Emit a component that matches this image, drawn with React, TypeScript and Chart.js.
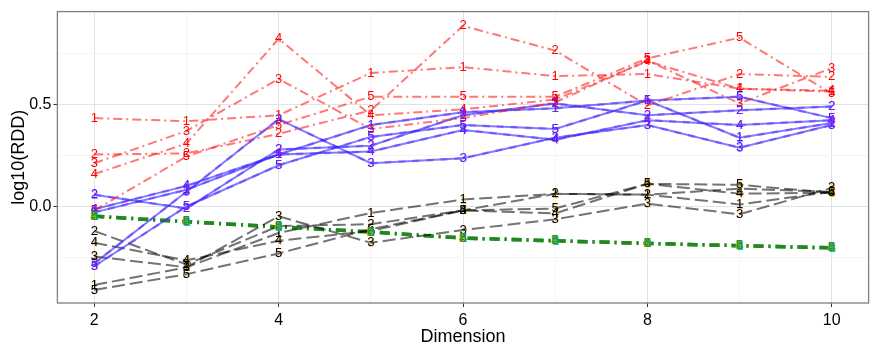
import React, { useEffect, useRef } from 'react';
import { Chart, registerables } from 'chart.js';
Chart.register(...registerables);

const dimensions = [2, 3, 4, 5, 6, 7, 8, 9, 10];
const runLabels = ['1', '2', '3', '4', '5'];
const xTicks = [2, 3, 4, 5, 6, 7, 8, 9, 10];
const yTicks = [-0.25, 0, 0.25, 0.5, 0.75];
const xTitle = 'Dimension';
const yTitle = 'log10(RDD)';

// red group (dash-dot)
const red1 = [0.433, 0.418, 0.447, 0.654, 0.683, 0.639, 0.649, 0.577, 0.563];
const red2 = [0.255, 0.26, 0.356, 0.471, 0.885, 0.764, 0.495, 0.649, 0.635];
const red3 = [0.212, 0.37, 0.625, 0.38, 0.433, 0.51, 0.716, 0.505, 0.678];
const red4 = [0.159, 0.308, 0.822, 0.447, 0.476, 0.524, 0.712, 0.577, 0.567];
const red5 = [-0.019, 0.245, 0.399, 0.538, 0.538, 0.538, 0.726, 0.827, 0.553];

// blue group (solid)
const blue1 = [-0.029, 0.082, 0.255, 0.399, 0.462, 0.481, 0.519, 0.337, 0.409];
const blue2 = [0.058, -0.01, 0.279, 0.298, 0.447, 0.505, 0.447, 0.471, 0.49];
const blue3 = [-0.279, 0.072, 0.428, 0.212, 0.236, 0.337, 0.399, 0.288, 0.399];
const blue4 = [-0.014, 0.101, 0.255, 0.269, 0.375, 0.327, 0.423, 0.399, 0.423];
const blue5 = [-0.293, 0.0, 0.202, 0.341, 0.399, 0.38, 0.519, 0.538, 0.433];

// purple group (dashed) - overlaps blue
const purple1 = [-0.029, 0.082, 0.255, 0.399, 0.462, 0.481, 0.519, 0.337, 0.409];
const purple2 = [0.058, -0.01, 0.279, 0.298, 0.447, 0.505, 0.447, 0.471, 0.49];
const purple3 = [-0.279, 0.072, 0.428, 0.212, 0.236, 0.337, 0.399, 0.288, 0.399];
const purple4 = [-0.014, 0.101, 0.255, 0.269, 0.375, 0.327, 0.423, 0.399, 0.423];
const purple5 = [-0.293, 0.0, 0.202, 0.341, 0.399, 0.38, 0.519, 0.538, 0.433];

// black group (long dash)
const black1 = [-0.385, -0.298, -0.13, -0.032, 0.034, 0.062, 0.058, 0.01, 0.072];
const black2 = [-0.12, -0.284, -0.096, -0.087, -0.019, 0.062, 0.058, 0.087, 0.072];
const black3 = [-0.245, -0.298, -0.048, -0.178, -0.115, -0.063, 0.014, -0.038, 0.091];
const black4 = [-0.178, -0.264, -0.168, -0.12, -0.019, -0.034, 0.111, 0.063, 0.067];
const black5 = [-0.409, -0.332, -0.23, -0.111, -0.019, -0.01, 0.111, 0.106, 0.067];

// green group (thick dash-dot, all runs overlap)
const green1 = [-0.048, -0.075, -0.1, -0.125, -0.155, -0.168, -0.181, -0.192, -0.203];
const green2 = [-0.048, -0.075, -0.1, -0.125, -0.155, -0.168, -0.181, -0.192, -0.203];
const green3 = [-0.048, -0.075, -0.1, -0.125, -0.155, -0.168, -0.181, -0.192, -0.203];
const green4 = [-0.048, -0.075, -0.1, -0.125, -0.155, -0.168, -0.181, -0.192, -0.203];
const green5 = [-0.048, -0.075, -0.1, -0.125, -0.155, -0.168, -0.181, -0.192, -0.203];

const FONT = '"Liberation Sans", Arial, sans-serif';

type Layer = { color: string; dx: number; dy: number };
type Group = {
  series: number[][];
  line: string;
  width: number;
  dash: number[];
  layers: Layer[];
};

const groups: Group[] = [
  {
    series: [red1, red2, red3, red4, red5],
    line: 'rgba(255,30,30,0.6)', width: 2, dash: [9, 4, 2, 4],
    layers: [{ color: '#FF0000', dx: 0, dy: 0 }],
  },
  {
    series: [blue1, blue2, blue3, blue4, blue5],
    line: 'rgba(40,40,255,0.6)', width: 2, dash: [],
    layers: [{ color: '#2222FF', dx: 0, dy: 0 }],
  },
  {
    series: [purple1, purple2, purple3, purple4, purple5],
    line: 'rgba(170,60,240,0.5)', width: 2.5, dash: [7, 7],
    layers: [{ color: 'rgba(160,32,240,0.6)', dx: 0.5, dy: 0.3 }],
  },
  {
    series: [black1, black2, black3, black4, black5],
    line: 'rgba(0,0,0,0.55)', width: 2, dash: [13, 5],
    layers: [
      { color: 'rgba(230,150,0,0.55)', dx: 0.5, dy: 0.5 },
      { color: '#000000', dx: 0, dy: 0 },
    ],
  },
  {
    series: [green1, green2, green3, green4, green5],
    line: 'rgba(20,130,20,0.45)', width: 3.5, dash: [10, 5, 2, 5],
    layers: [
      { color: 'rgba(230,190,0,0.9)', dx: -0.6, dy: 0 },
      { color: 'rgba(0,190,220,0.6)', dx: 0.6, dy: 0.3 },
      { color: 'rgba(30,140,30,0.9)', dx: 0, dy: 0 },
    ],
  },
];

const datasets: any[] = [];
groups.forEach((g) => {
  g.series.forEach((vals, i) => {
    datasets.push({
      data: dimensions.map((d, k) => ({ x: d, y: vals[k] })),
      borderColor: g.line,
      borderWidth: g.width,
      borderDash: g.dash,
      pointRadius: 0,
      fill: false,
      tension: 0,
      runLabel: runLabels[i],
      textLayers: g.layers,
    });
  });
});

const labelPlugin = {
  id: 'runLabels',
  afterDatasetsDraw(chart: any) {
    const ctx = chart.ctx;
    ctx.save();
    ctx.font = `13px ${FONT}`;
    ctx.textAlign = 'center';
    ctx.textBaseline = 'middle';
    chart.data.datasets.forEach((ds: any, i: number) => {
      const meta = chart.getDatasetMeta(i);
      meta.data.forEach((pt: any) => {
        ds.textLayers.forEach((l: Layer) => {
          ctx.fillStyle = l.color;
          ctx.fillText(ds.runLabel, pt.x + l.dx, pt.y + l.dy);
        });
      });
    });
    ctx.restore();
  },
};

const borderPlugin = {
  id: 'panelBorder',
  afterDraw(chart: any) {
    const { left, top, right, bottom } = chart.chartArea;
    const ctx = chart.ctx;
    ctx.save();
    ctx.strokeStyle = '#7F7F7F';
    ctx.lineWidth = 1.3;
    ctx.strokeRect(left, top, right - left, bottom - top);
    ctx.restore();
  },
};

const isMajorX = (v: number) => v % 2 === 0;
const isMajorY = (v: number) => Math.abs(v) < 1e-9 || Math.abs(v - 0.5) < 1e-9;

export default function App() {
  const ref = useRef<HTMLCanvasElement>(null);
  useEffect(() => {
    const chart = new Chart(ref.current as HTMLCanvasElement, {
      type: 'line',
      data: { datasets },
      options: {
        animation: false,
        responsive: false,
        devicePixelRatio: 1,
        layout: { padding: { top: 5, right: 6.4, left: 0, bottom: 0 } },
        plugins: { legend: { display: false }, tooltip: { enabled: false } },
        scales: {
          x: {
            type: 'linear',
            min: 1.6,
            max: 10.4,
            afterBuildTicks: (s: any) => { s.ticks = xTicks.map((v) => ({ value: v })); },
            afterFit: (s: any) => { s.height = 47; },
            grid: {
              color: (c: any) => (c.tick && isMajorX(c.tick.value) ? '#E2E2E2' : '#F4F4F4'),
              tickColor: (c: any) => (c.tick && isMajorX(c.tick.value) ? '#333333' : 'rgba(0,0,0,0)'),
              tickLength: 4,
              lineWidth: 1,
            },
            border: { display: false },
            ticks: {
              autoSkip: false,
              maxRotation: 0,
              color: '#000',
              padding: 4,
              font: { family: FONT, size: 16 },
              callback: (v: any) => (isMajorX(Number(v)) ? String(v) : ''),
            },
            title: { display: true, text: xTitle, color: '#000', font: { family: FONT, size: 18 }, padding: { top: 0, bottom: 2 } },
          },
          y: {
            type: 'linear',
            min: -0.473,
            max: 0.955,
            afterBuildTicks: (s: any) => { s.ticks = yTicks.map((v) => ({ value: v })); },
            afterFit: (s: any) => { s.width = 57.4; },
            grid: {
              color: (c: any) => (c.tick && isMajorY(c.tick.value) ? '#E2E2E2' : '#F4F4F4'),
              tickColor: (c: any) => (c.tick && isMajorY(c.tick.value) ? '#333333' : 'rgba(0,0,0,0)'),
              tickLength: 4,
              lineWidth: 1,
            },
            border: { display: false },
            ticks: {
              autoSkip: false,
              color: '#000',
              padding: 2,
              font: { family: FONT, size: 16 },
              callback: (v: any) => {
                const n = Number(v);
                if (!isMajorY(n)) return '';
                return n.toFixed(1);
              },
            },
            title: { display: true, text: yTitle, color: '#000', font: { family: FONT, size: 18 }, padding: { top: 8, bottom: 0 } },
          },
        },
      } as any,
      plugins: [labelPlugin, borderPlugin],
    });
    return () => chart.destroy();
  }, []);
  return (
    <div style={{ position: 'absolute', left: 0, top: 0, width: 875, height: 350, background: '#fff' }}>
      <canvas ref={ref} width={875} height={350} />
    </div>
  );
}
